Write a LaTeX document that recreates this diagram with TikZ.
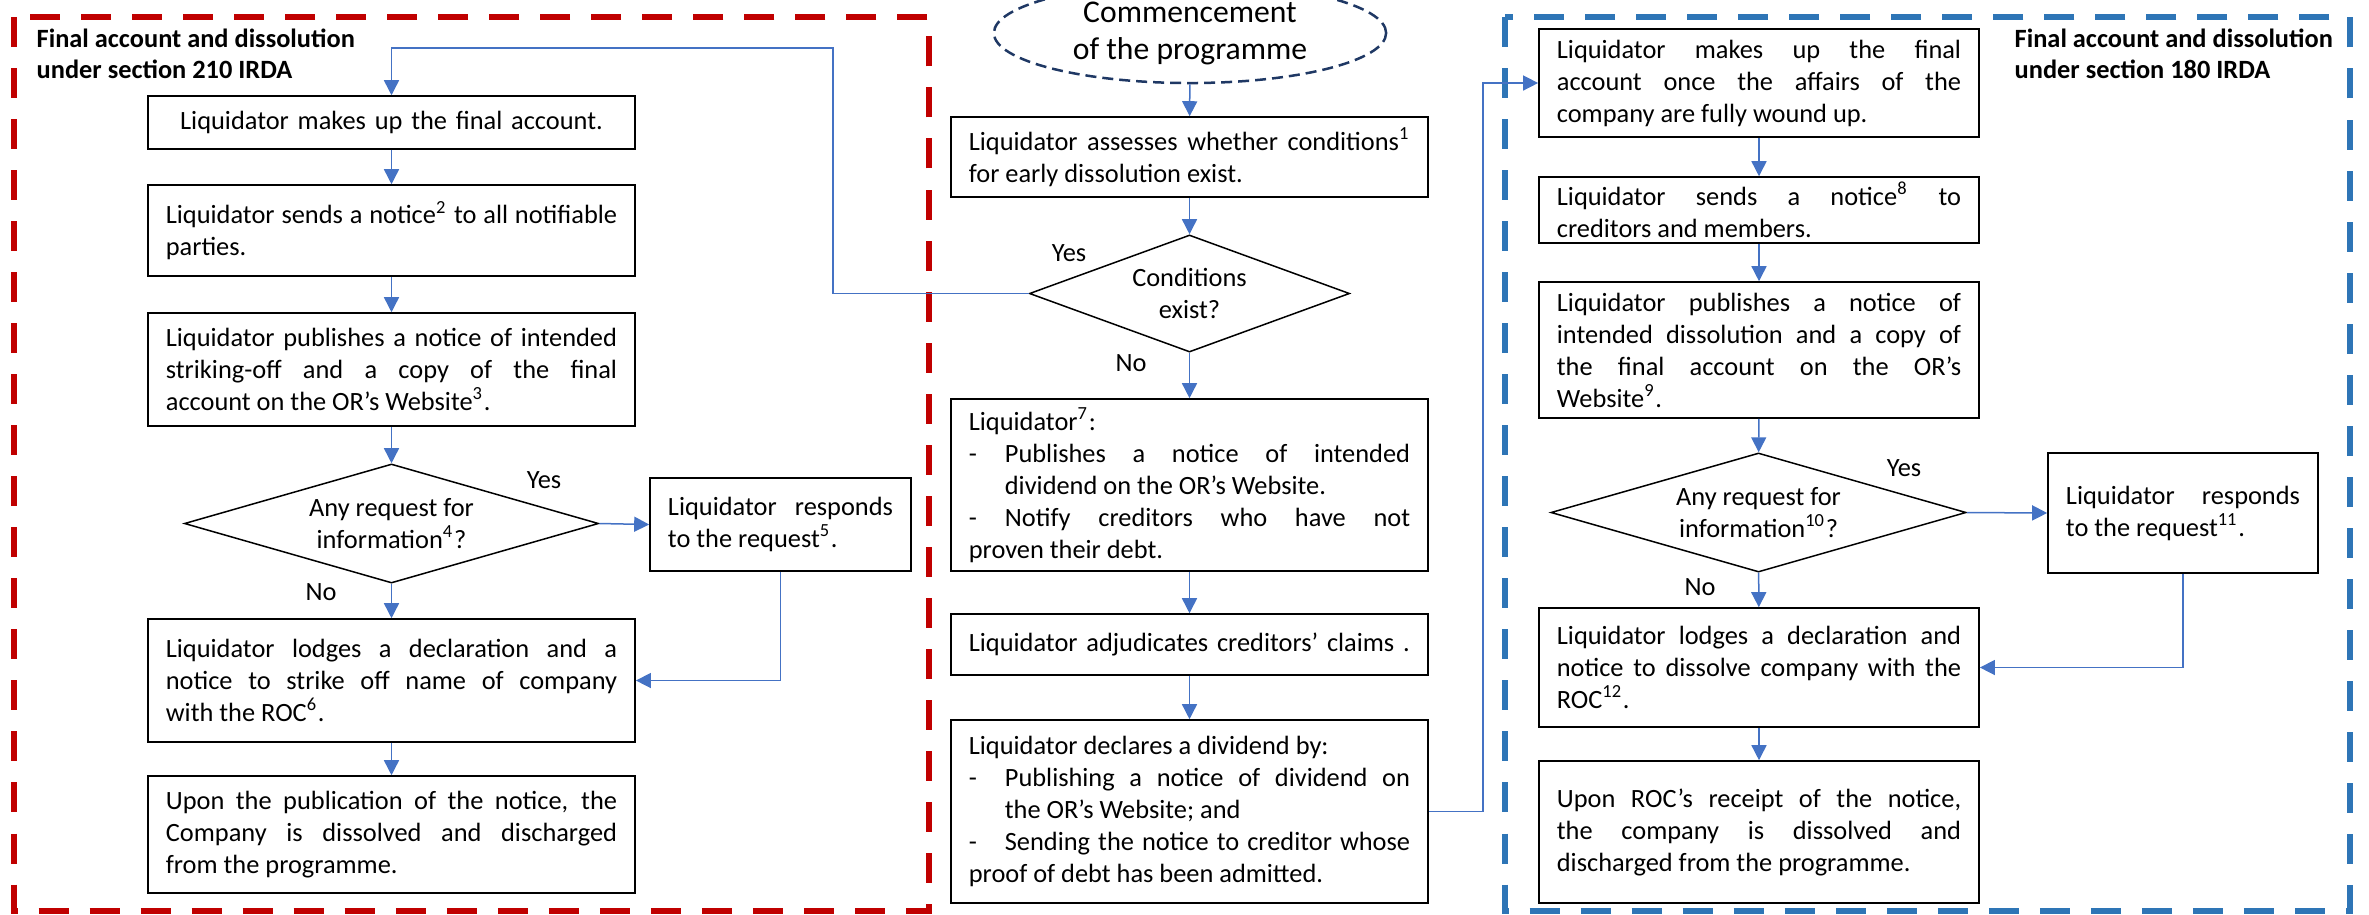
\documentclass[tikz,border=0pt]{standalone}
\usepackage{fontspec}
\setmainfont{Carlito}
\usepackage{tikz}
\usetikzlibrary{shapes, arrows.meta, positioning, calc}
\definecolor{framered}{RGB}{192,0,0}
\definecolor{frameblue}{RGB}{46,117,182}
\definecolor{linkblue}{RGB}{68,114,196}
\definecolor{startnavy}{RGB}{31,56,100}
\hyphenpenalty=10000
\exhyphenpenalty=10000
\tolerance=9999
\hbadness=10000
\newcommand{\dashline}[1]{\par\noindent\hangindent=0.36cm\hangafter=1\makebox[0.36cm][l]{-}#1}

\begin{document}
\begin{tikzpicture}[x=0.01cm, y=-0.01cm,
    font=\fontsize{7.5}{9.1}\selectfont,
    box/.style={draw, rectangle, line width=0.015cm, inner xsep=0.18cm, inner ysep=0, align=justify},
    colL/.style={box, text width=4.51cm},
    colM/.style={box, text width=4.41cm},
    colR/.style={box, text width=4.04cm},
    replyL/.style={box, text width=2.25cm},
    replyR/.style={box, text width=2.34cm},
    decide/.style={draw, diamond, line width=0.015cm, inner sep=0, align=center},
    startnode/.style={draw=startnavy, ellipse, line width=0.025cm, dash pattern=on 0.11cm off 0.06cm,
      inner sep=0, align=center, font=\fontsize{9}{10.5}\selectfont},
    heading/.style={anchor=north west, inner sep=0, align=left, font=\fontsize{7.5}{8.8}\selectfont\bfseries},
    answer/.style={inner sep=0},
    link/.style={draw=linkblue, line width=0.015cm, -{Triangle[length=0.15cm, width=0.15cm]}},
    frame/.style={line width=0.06cm, dash pattern=on 0.3cm off 0.21cm}]
  \useasboundingbox (0,0) rectangle (2369,914);

  % frames
  \draw[frame, framered] (14,17) rectangle (929,911);
  \draw[frame, frameblue] (1505,17) rectangle (2350,911);
  \node[heading] (titleL) at (36,28) {Final account and dissolution\\under section 210 IRDA};
  \node[heading] (titleR) at (2014,28) {Final account and dissolution\\under section 180 IRDA};

  % middle column
  \node[startnode, minimum width=3.92cm, minimum height=1cm] (start) at (1190,33) {Commencement\\of the programme};
  \node[colM, minimum height=0.8cm] (assess) at (1189.5,157) {Liquidator assesses whether conditions\textsuperscript{1}\linebreak for early dissolution exist.};
  \node[decide, minimum width=3.2cm, minimum height=1.17cm, aspect=2.74] (cond) at (1189.5,293.5) {Conditions\\exist?};
  \node[colM, minimum height=1.72cm] (notify) at (1189.5,485) {Liquidator\textsuperscript{7}:\dashline{Publishes a notice of intended\linebreak dividend on the OR’s Website.}\dashline{Notify creditors who have not\linebreak proven their debt.}};
  \node[colM, align=left, minimum height=0.61cm] (adjud) at (1189.5,644.5) {Liquidator adjudicates creditors’ claims .};
  \node[colM, minimum height=1.83cm] (declare) at (1189.5,811.5) {Liquidator declares a dividend by:\dashline{Publishing a notice of dividend on\linebreak the OR’s Website; and}\dashline{Sending the notice to creditor whose\linebreak proof of debt has been admitted.}};
  \node[answer] (yesM) at (1069,253) {Yes};
  \node[answer] (noM) at (1131,363) {No};

  % left column
  \node[colL, align=center, minimum height=0.53cm] (accL) at (391.5,122.5) {Liquidator makes up the final account.};
  \node[colL, minimum height=0.91cm] (sendL) at (391.5,230.5) {Liquidator sends a notice\textsuperscript{2} to all notifiable\linebreak parties.};
  \node[colL, minimum height=1.13cm] (publL) at (391.5,369.5) {Liquidator publishes a notice of intended\linebreak striking-off and a copy of the final\linebreak account on the OR’s Website\textsuperscript{3}.};
  \node[decide, minimum width=4.14cm, minimum height=1.19cm, aspect=3.48] (askL) at (391.5,523.5) {Any request for\\information\textsuperscript{4}?};
  \node[replyL, minimum height=0.93cm] (respL) at (780.5,524.5) {Liquidator responds\linebreak to the request\textsuperscript{5}.};
  \node[colL, minimum height=1.23cm] (lodgeL) at (391.5,680.5) {Liquidator lodges a declaration and a\linebreak notice to strike off name of company\linebreak with the ROC\textsuperscript{6}.};
  \node[colL, minimum height=1.17cm] (doneL) at (391.5,834.5) {Upon the publication of the notice, the\linebreak Company is dissolved and discharged\linebreak from the programme.};
  \node[answer] (yesL) at (544,480) {Yes};
  \node[answer] (noL) at (321,592) {No};

  % right column
  \node[colR, minimum height=1.08cm] (accR) at (1759,83) {Liquidator makes up the final\linebreak account once the affairs of the\linebreak company are fully wound up.};
  \node[colR, minimum height=0.66cm] (sendR) at (1759,210) {Liquidator sends a notice\textsuperscript{8} to\linebreak creditors and members.};
  \node[colR, minimum height=1.36cm] (publR) at (1759,350) {Liquidator publishes a notice of\linebreak intended dissolution and a copy of\linebreak the final account on the OR’s\linebreak Website\textsuperscript{9}.};
  \node[decide, minimum width=4.15cm, minimum height=1.19cm, aspect=3.49] (askR) at (1758.5,512.5) {Any request for\\information\textsuperscript{10}?};
  \node[replyR, minimum height=1.2cm] (respR) at (2183,513) {Liquidator responds\linebreak to the request\textsuperscript{11}.};
  \node[colR, minimum height=1.19cm] (lodgeR) at (1759,667.5) {Liquidator lodges a declaration and\linebreak notice to dissolve company with the\linebreak ROC\textsuperscript{12}.};
  \node[colR, minimum height=1.42cm] (doneR) at (1759,832) {Upon ROC’s receipt of the notice,\linebreak the company is dissolved and\linebreak discharged from the programme.};
  \node[answer] (yesR) at (1904,468) {Yes};
  \node[answer] (noR) at (1700,587) {No};

  \coordinate (turnL) at (833,48);
  \coordinate (turnR) at (1483,83);

  % connectors
  \draw[link] (start) -- (assess);
  \draw[link] (assess) -- (cond);
  \draw[link] (cond) -- (notify);
  \draw[link] (notify) -- (adjud);
  \draw[link] (adjud) -- (declare);
  \draw[link] (cond.west) -| (turnL) -| (accL.north);
  \draw[link] (accL) -- (sendL);
  \draw[link] (sendL) -- (publL);
  \draw[link] (publL) -- (askL);
  \draw[link] (askL) -- (lodgeL);
  \draw[link] (askL.east) -- (respL.west);
  \draw[link] (respL.south) |- (lodgeL.east);
  \draw[link] (lodgeL) -- (doneL);
  \draw[link] (declare.east) -| (turnR) -- (accR.west);
  \draw[link] (accR) -- (sendR);
  \draw[link] (sendR) -- (publR);
  \draw[link] (publR) -- (askR);
  \draw[link] (askR) -- (lodgeR);
  \draw[link] (askR.east) -- (respR.west);
  \draw[link] (respR.south) |- (lodgeR.east);
  \draw[link] (lodgeR) -- (doneR);
\end{tikzpicture}
\end{document}
